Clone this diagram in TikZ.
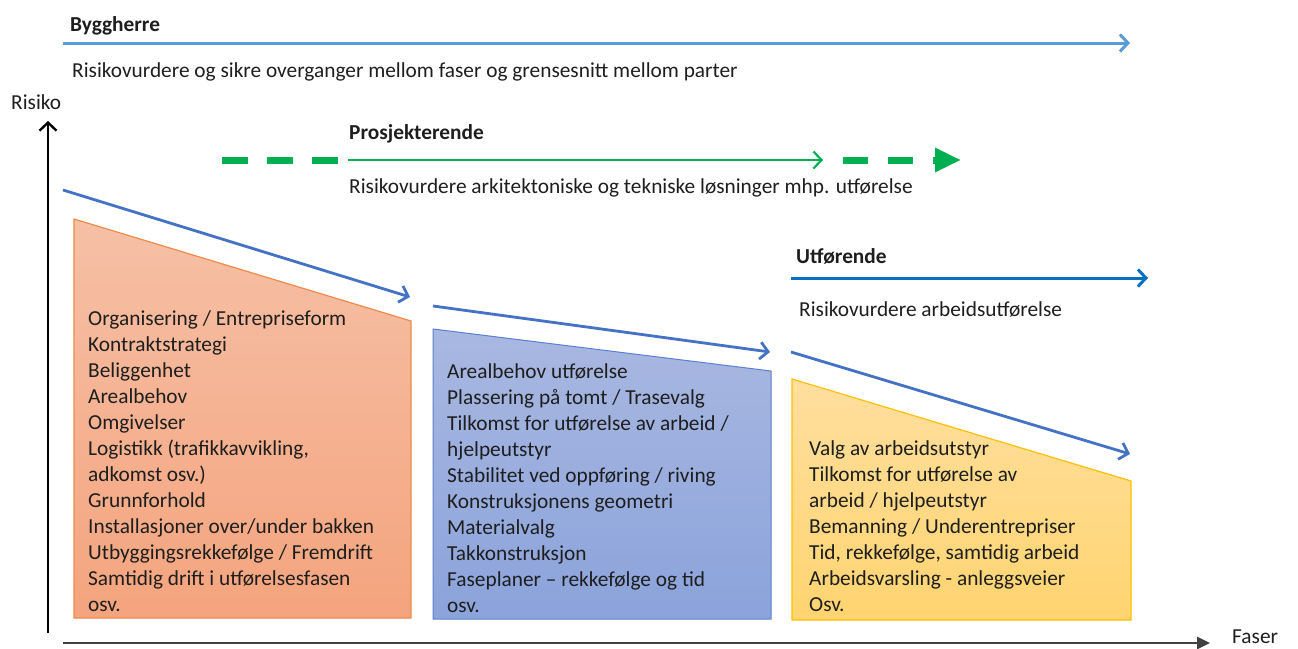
\documentclass[tikz,border=0pt]{standalone}
\usepackage{fontspec}
\setmainfont{Carlito}
\usetikzlibrary{arrows.meta}
\definecolor{bhblue}{HTML}{5B9BD5}
\definecolor{pgreen}{HTML}{00B050}
\definecolor{ublue}{HTML}{0070C0}
\definecolor{tblue}{HTML}{4472C4}
\definecolor{txt}{HTML}{1E1E1E}
\definecolor{axgray}{HTML}{404040}
\definecolor{orTop}{HTML}{F6C0A6}
\definecolor{orBot}{HTML}{F4A47E}
\definecolor{orEdge}{HTML}{F08A4B}
\definecolor{blTop}{HTML}{A9B8E1}
\definecolor{blBot}{HTML}{8BA3DB}
\definecolor{blEdge}{HTML}{5B7FD0}
\definecolor{yeTop}{HTML}{FFDF9F}
\definecolor{yeBot}{HTML}{FFD470}
\definecolor{yeEdge}{HTML}{FFC000}
\tikzset{
  lbl/.style={anchor=base west, inner sep=0pt, text=txt},
  ttl/.style={lbl, font=\fontsize{21.33}{26}\selectfont\bfseries},
  blk/.style={anchor=north west, inner sep=0pt, align=left, text=txt},
  chev/.style={-{Straight Barb[length=8pt,width=17pt]}},
  trend/.style={tblue, line width=2.8pt, chev},
}
\begin{document}
\begin{tikzpicture}[x=1pt,y=-1pt,font=\fontsize{21.33}{26}\selectfont]
\useasboundingbox (0,0) rectangle (1298,648);

% ---- Byggherre
\node[ttl] (bh) at (70,31) {Byggherre};
\coordinate (bhs) at (63,43);
\coordinate (bhe) at (1130,43);
\draw[bhblue, line width=3pt, chev] (bhs) -- (bhe);
\node[lbl] (bhtxt) at (72,77) {Risikovurdere og sikre overganger mellom faser og grensesnitt mellom parter};

% ---- Axes
\node[lbl] (risiko) at (11,109) {Risiko};
\coordinate (ys) at (48,633);
\coordinate (ye) at (48,121);
\draw[black, line width=2.4pt, -{Straight Barb[length=8pt,width=17pt]}] (ys) -- (ye);
\coordinate (xs) at (63,643);
\coordinate (xe) at (1210,643);
\draw[axgray, line width=2.8pt, -{Triangle[length=13pt,width=12pt]}] (xs) -- (xe);
\node[lbl] (faser) at (1232,643.5) {Faser};

% ---- Prosjekterende
\node[ttl] (pr) at (349,139) {Prosjekterende};
\coordinate (pd1s) at (222,160);
\coordinate (pd1e) at (338,160);
\draw[pgreen, line width=7pt, dash pattern=on 26pt off 19pt] (pd1s) -- (pd1e);
\coordinate (pls) at (348,160);
\coordinate (ple) at (823,160);
\draw[pgreen, line width=2.2pt, chev] (pls) -- (ple);
\coordinate (pd2s) at (843,160);
\coordinate (pd2e) at (961,160);
\draw[pgreen, line width=7pt, dash pattern=on 25pt off 20pt, -{Triangle[length=26pt,width=23pt]}] (pd2s) -- (pd2e);
\node[lbl] (prtxt) at (349,193) {Risikovurdere arkitektoniske og tekniske løsninger mhp. utførelse};

% ---- Utførende
\node[ttl] (ut) at (796,263) {Utførende};
\coordinate (uts) at (791,278);
\coordinate (ute) at (1148,278);
\draw[ublue, line width=3pt, chev] (uts) -- (ute);
\node[lbl] (uttxt) at (799,316) {Risikovurdere arbeidsutførelse};

% ---- Phase boxes
\path[draw=orEdge, line width=1.2pt, top color=orTop, bottom color=orBot]
  (74,219) -- (411,321) -- (411,618) -- (74,618) -- cycle;
\path[draw=blEdge, line width=1pt, top color=blTop, bottom color=blBot]
  (433,329) -- (771,371) -- (771,619) -- (433,619) -- cycle;
\path[draw=yeEdge, line width=1.2pt, top color=yeTop, bottom color=yeBot]
  (792,379) -- (1131,481) -- (1131,620) -- (792,620) -- cycle;

\node[blk] (ortxt) at (88,306.8) {\strut Organisering / Entrepriseform\\Kontraktstrategi\\Beliggenhet\\Arealbehov\\Omgivelser\\Logistikk (trafikkavvikling,\\adkomst osv.)\\Grunnforhold\\Installasjoner over/under bakken\\Utbyggingsrekkefølge / Fremdrift\\Samtidig drift i utførelsesfasen\\osv.};
\node[blk] (bltxt) at (447,359.8) {\strut Arealbehov utførelse\\Plassering på tomt / Trasevalg\\Tilkomst for utførelse av arbeid /\\hjelpeutstyr\\Stabilitet ved oppføring / riving\\Konstruksjonens geometri\\Materialvalg\\Takkonstruksjon\\Faseplaner – rekkefølge og tid\\osv.};
\node[blk] (yetxt) at (809,436.8) {\strut Valg av arbeidsutstyr\\Tilkomst for utførelse av\\arbeid / hjelpeutstyr\\Bemanning / Underentrepriser\\Tid, rekkefølge, samtidig arbeid\\Arbeidsvarsling - anleggsveier\\Osv.};

% ---- Trend arrows
\coordinate (t1s) at (63,190);
\coordinate (t1e) at (410,297);
\coordinate (t2s) at (433,306);
\coordinate (t2e) at (770,352);
\coordinate (t3s) at (791,352);
\coordinate (t3e) at (1130,454);
\draw[trend] (t1s) -- (t1e);
\draw[trend] (t2s) -- (t2e);
\draw[trend] (t3s) -- (t3e);
\end{tikzpicture}
\end{document}
